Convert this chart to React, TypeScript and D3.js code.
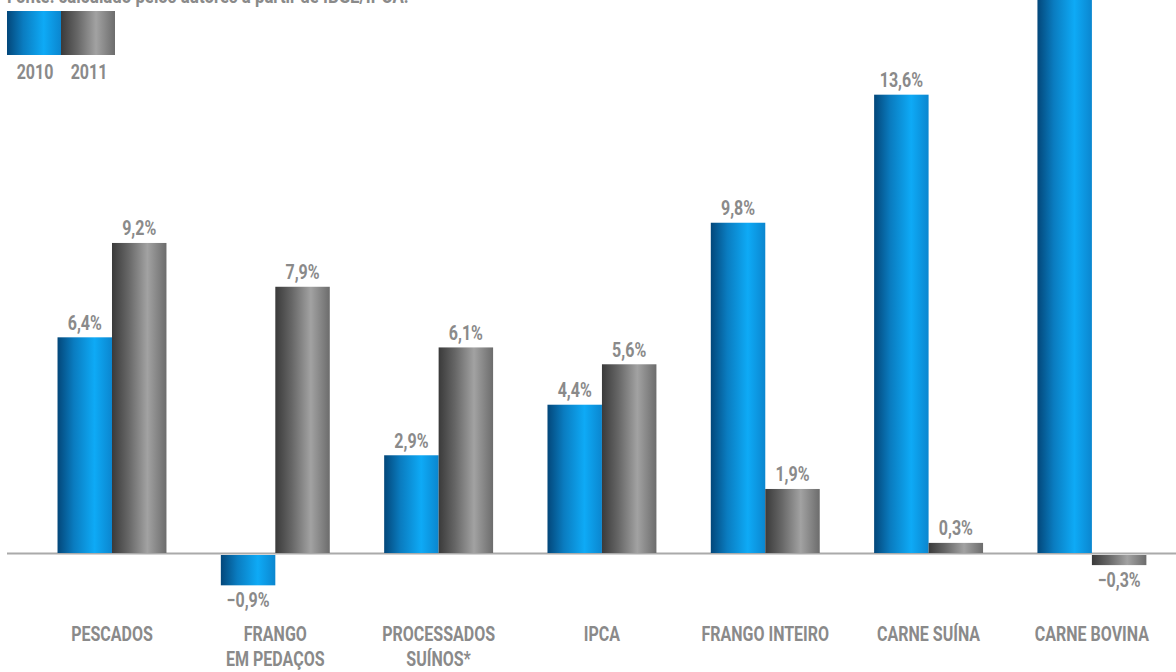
import React from "react";
import * as d3 from "d3";

const categories = [
  ["PESCADOS"],
  ["FRANGO", "EM PEDAÇOS"],
  ["PROCESSADOS", "SUÍNOS*"],
  ["IPCA"],
  ["FRANGO INTEIRO"],
  ["CARNE SUÍNA"],
  ["CARNE BOVINA"],
];
const values2010 = [6.4, -0.9, 2.9, 4.4, 9.8, 13.6, 17.5];
const values2011 = [9.2, 7.9, 6.1, 5.6, 1.9, 0.3, -0.3];
const seriesNames = ["2010", "2011"];
const sourceText = "Fonte: calculado pelos autores a partir de IBGE/IPCA.";

const W = 1176;
const H = 672;
const FONT = "Roboto, 'DejaVu Sans', sans-serif";
const TEXT = "#8a8a8a";
const SX = 0.8;

const fmt = (v: number) => (v < 0 ? "−" : "") + Math.abs(v).toFixed(1).replace(".", ",") + "%";

function Label({
  x,
  y,
  size = 20,
  anchor = "middle",
  children,
}: {
  x: number;
  y: number;
  size?: number;
  anchor?: string;
  children: React.ReactNode;
}) {
  return (
    <text
      transform={`translate(${x},${y}) scale(${SX},1)`}
      textAnchor={anchor}
      fontSize={size}
      fontWeight="bold"
      fill={TEXT}
    >
      {children}
    </text>
  );
}

export default function App() {
  const x = d3
    .scaleBand<number>()
    .domain(d3.range(categories.length))
    .range([30.3, 1173.6])
    .paddingInner(0.333)
    .paddingOuter(0.1667);
  const x1 = d3.scaleBand<number>().domain([0, 1]).range([0, x.bandwidth()]);
  const y = d3.scaleLinear().domain([0, 10]).range([553, 553 - 337]);
  const zeroY = y(0);

  const series = [values2010, values2011];
  const grads = ["gBlue", "gGray"];

  return (
    <svg
      width={W}
      height={H}
      style={{ position: "absolute", left: 0, top: 0, background: "#fff" }}
      fontFamily={FONT}
    >
      <defs>
        <linearGradient id="gBlue" x1="0" x2="1" y1="0" y2="0">
          <stop offset="0" stopColor="#03477a" />
          <stop offset="0.3" stopColor="#0a7cc0" />
          <stop offset="0.68" stopColor="#0eaaf6" />
          <stop offset="1" stopColor="#0b86cf" />
        </linearGradient>
        <linearGradient id="gGray" x1="0" x2="1" y1="0" y2="0">
          <stop offset="0" stopColor="#3a3a3a" />
          <stop offset="0.3" stopColor="#666" />
          <stop offset="0.65" stopColor="#a2a2a2" />
          <stop offset="1" stopColor="#6c6c6c" />
        </linearGradient>
      </defs>

      <Label x={7} y={3} size={21} anchor="start">
        {sourceText}
      </Label>

      {/* legend */}
      {seriesNames.map((s, i) => (
        <g key={s}>
          <rect x={7 + i * 54} y={11} width={54} height={44} fill={`url(#${grads[i]})`} />
          <Label x={35 + i * 54} y={79}>
            {s}
          </Label>
        </g>
      ))}

      {/* axis line */}
      <line x1={7} x2={W} y1={zeroY + 0.5} y2={zeroY + 0.5} stroke="#aaa" strokeWidth={2} />

      {categories.map((c, ci) => (
        <g key={ci} transform={`translate(${x(ci)},0)`}>
          {series.map((vals, si) => {
            const v = vals[ci];
            const top = v >= 0 ? y(v) : zeroY + 2;
            const h = v >= 0 ? zeroY - y(v) : y(v) - zeroY;
            const bx = x1(si)!;
            const bw = x1.bandwidth();
            return (
              <g key={si}>
                <rect x={bx} y={top} width={bw} height={h} fill={`url(#${grads[si]})`} />
                <Label x={bx + bw / 2} y={v >= 0 ? y(v) - 7.5 : y(v) + 24}>
                  {fmt(v)}
                </Label>
              </g>
            );
          })}
          {c.map((line, li) => (
            <Label key={li} x={x.bandwidth() / 2} y={641 + li * 25}>
              {line}
            </Label>
          ))}
        </g>
      ))}
    </svg>
  );
}
